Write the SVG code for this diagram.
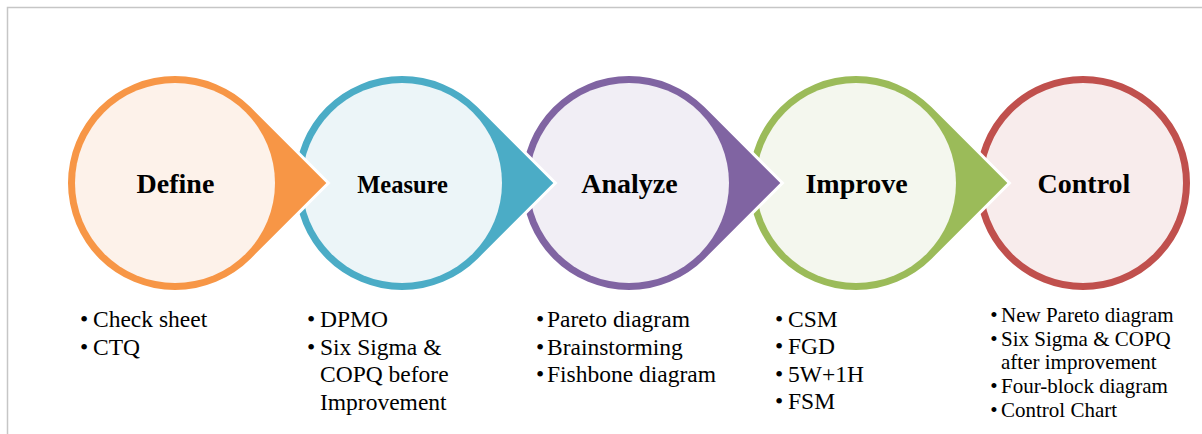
<svg xmlns="http://www.w3.org/2000/svg" xmlns:xlink="http://www.w3.org/1999/xlink" width="1202" height="434" viewBox="0 0 1202 434">
  <style>
    .drop { stroke: #ffffff; stroke-width: 6; paint-order: stroke; stroke-linejoin: miter; }
    .title { font-family: "Liberation Serif", "Times New Roman", serif; font-weight: bold; font-size: 28px; fill: #000000; text-anchor: middle; }
    .item { font-family: "Liberation Serif", "Times New Roman", serif; font-size: 23.5px; fill: #000000; }
    .small { font-size: 21px; }
    .dot { text-anchor: middle; }
    .frame { stroke: #c6c6c6; stroke-width: 1.5; fill: none; }
  </style>
  <defs>
    <!-- teardrop: circle of radius 107 with a square corner pointing right -->
    <path id="drop" d="M151.32,0 L75.66,-75.66 A107,107 0 1 0 75.66,75.66 Z"/>
  </defs>

  <rect width="1202" height="434" fill="#ffffff"/>
  <path class="frame" d="M7.5,434 V7.5 H1202"/>

  <!-- stages are painted right to left so each tip sits on the next circle -->
  <g id="control">
    <circle cx="1083" cy="183" r="103.5" fill="#F8ECEC" stroke="#C0504D" stroke-width="7"/>
    <text class="title" x="1084" y="193">Control</text>
    <g class="item small">
      <text class="dot" x="994" y="322">•</text><text x="1001" y="322">New Pareto diagram</text>
      <text class="dot" x="994" y="346">•</text><text x="1001" y="346">Six Sigma &amp; COPQ</text>
      <text x="1001" y="369">after improvement</text>
      <text class="dot" x="994" y="393">•</text><text x="1001" y="393">Four-block diagram</text>
      <text class="dot" x="994" y="417">•</text><text x="1001" y="417">Control Chart</text>
    </g>
  </g>

  <g id="improve">
    <use xlink:href="#drop" x="856" y="183" class="drop" fill="#9BBB59"/>
    <circle cx="856" cy="183" r="100" fill="#F4F7EE"/>
    <text class="title" x="856.5" y="193">Improve</text>
    <g class="item">
      <text class="dot" x="779" y="326.5">•</text><text x="788" y="326.5">CSM</text>
      <text class="dot" x="779" y="354">•</text><text x="788" y="354">FGD</text>
      <text class="dot" x="779" y="381.5">•</text><text x="788" y="381.5">5W+1H</text>
      <text class="dot" x="779" y="409">•</text><text x="788" y="409">FSM</text>
    </g>
  </g>

  <g id="analyze">
    <use xlink:href="#drop" x="629" y="183" class="drop" fill="#8064A2"/>
    <circle cx="629" cy="183" r="100" fill="#F1EEF5"/>
    <text class="title" x="629.5" y="193">Analyze</text>
    <g class="item">
      <text class="dot" x="540" y="327">•</text><text x="547" y="327">Pareto diagram</text>
      <text class="dot" x="540" y="354.5">•</text><text x="547" y="354.5">Brainstorming</text>
      <text class="dot" x="540" y="382">•</text><text x="547" y="382">Fishbone diagram</text>
    </g>
  </g>

  <g id="measure">
    <use xlink:href="#drop" x="402" y="183" class="drop" fill="#4BACC6"/>
    <circle cx="402" cy="183" r="100" fill="#ECF5F8"/>
    <text class="title" x="402.5" y="193" style="font-size:24.5px">Measure</text>
    <g class="item">
      <text class="dot" x="311" y="327">•</text><text x="320" y="327">DPMO</text>
      <text class="dot" x="311" y="354.5">•</text><text x="320" y="354.5">Six Sigma &amp;</text>
      <text x="320" y="382">COPQ before</text>
      <text x="320" y="409.5">Improvement</text>
    </g>
  </g>

  <g id="define">
    <use xlink:href="#drop" x="175" y="183" class="drop" fill="#F79646"/>
    <circle cx="175" cy="183" r="100" fill="#FDF2EA"/>
    <text class="title" x="175.5" y="193">Define</text>
    <g class="item">
      <text class="dot" x="84" y="327">•</text><text x="93" y="327">Check sheet</text>
      <text class="dot" x="84" y="355">•</text><text x="93" y="355">CTQ</text>
    </g>
  </g>
</svg>
